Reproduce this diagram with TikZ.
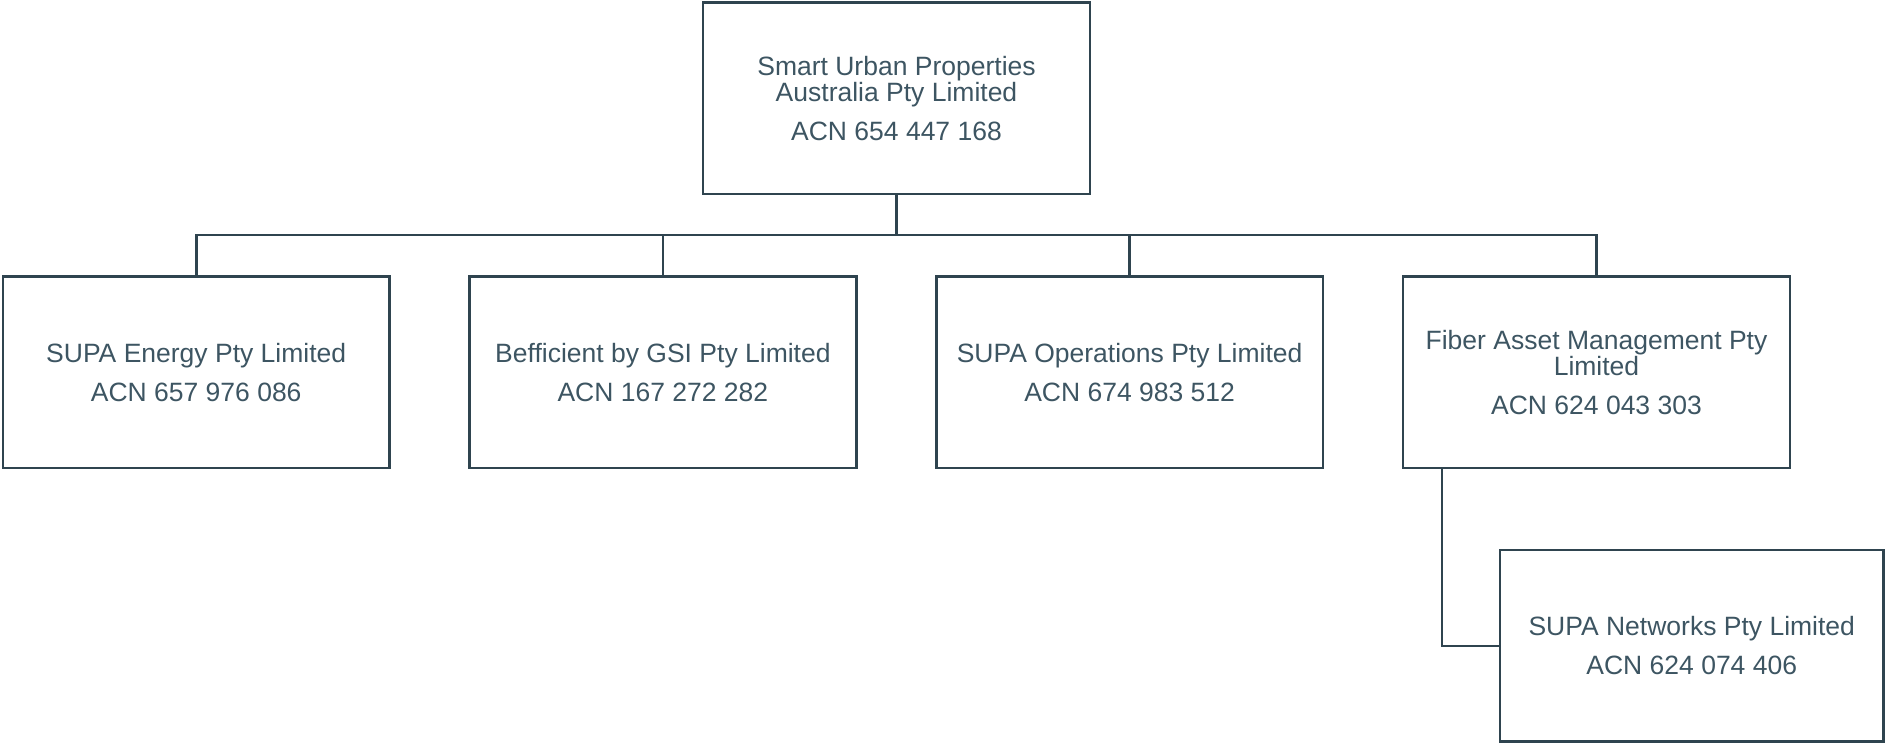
\documentclass[tikz,border=0pt]{standalone}
\usepackage{fontspec}
\setmainfont{Liberation Sans}
\usetikzlibrary{positioning}

\definecolor{linec}{HTML}{2F444F}
\definecolor{textc}{HTML}{3D5562}

\def\boxw{386.7}
\def\boxh{191.5}
\def\acngap{12pt}

\begin{document}
\begin{tikzpicture}[x=1pt, y=-1pt,
                    entity/.style={draw=linec, line width=2.6pt,
                      minimum width=\boxw pt, minimum height=\boxh pt,
                      inner sep=0pt, align=center, text=textc,
                      font=\fontsize{26.5}{26.7}\selectfont},
                    link/.style={draw=linec, line width=2.6pt}
                   ]

        \useasboundingbox (0,0) rectangle (1885,744);

        % parent
        \node [entity] (supa) at (896.5,98.3)
          {Smart Urban Properties\\Australia Pty Limited\\[\acngap]ACN 654 447 168};

        % subsidiaries
        \node [entity] (energy) at (196.2,372.3)
          {SUPA Energy Pty Limited\\[\acngap]ACN 657 976 086};
        \node [entity] (bfficient) at (662.9,372.3)
          {Befficient by GSI Pty Limited\\[\acngap]ACN 167 272 282};
        \node [entity] (operations) at (1129.6,372.3)
          {SUPA Operations Pty Limited\\[\acngap]ACN 674 983 512};
        \node [entity] (fiber) at (1596.5,372.3)
          {Fiber Asset Management Pty\\Limited\\[\acngap]ACN 624 043 303};
        \node [entity, minimum width=383.5pt] (networks) at (1691.75,645.8)
          {SUPA Networks Pty Limited\\[\acngap]ACN 624 074 406};

        \coordinate (bus) at (896.5,235);

        \draw [link] (supa.south) -- (bus);
        \draw [link] (energy.north) |- (bus) -| (fiber.north);
        \foreach \sub in {bfficient,operations}{
            \draw [link] (\sub.north) -- (\sub.north |- bus);
        }
        \draw [link] ([xshift=-154.5pt]fiber.south) |- (networks.west);
    \end{tikzpicture}
\end{document}
